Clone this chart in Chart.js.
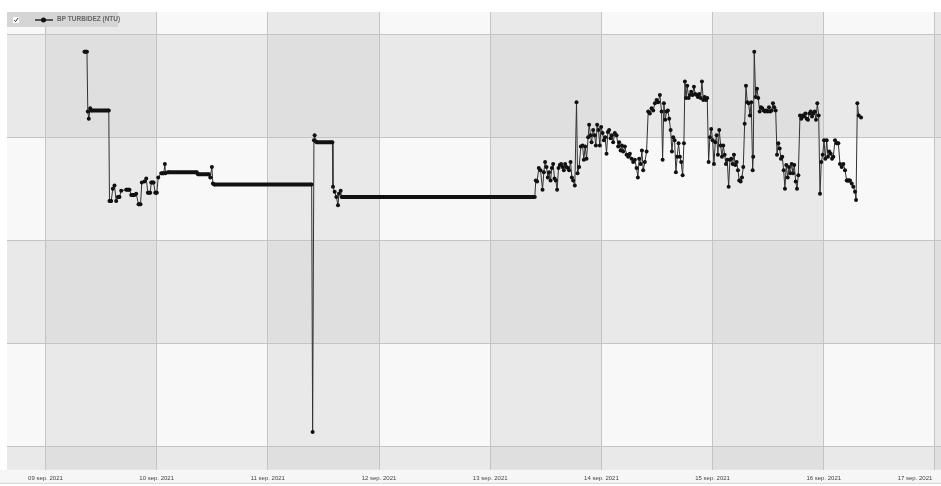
<!DOCTYPE html>
<html>
<head>
<meta charset="utf-8">
<script src="https://cdn.jsdelivr.net/npm/chart.js@4.4.1/dist/chart.umd.min.js"></script>
<style>
  html, body { margin: 0; padding: 0; background: #fff; overflow: hidden; }
  #wrap { width: 941px; height: 486px; position: relative; }
</style>
</head>
<body>
<div id="wrap"><canvas id="turbChart"></canvas></div>
<script>
// hours since 09 sep. 2021 00:00
const hours = [
  8.42, 8.96, 9.14, 9.35, 9.66, 9.83, 13.67, 13.82, 14.19, 14.54,
  14.90, 15.27, 15.62, 15.98, 16.35, 17.43, 18.14, 18.51, 19.22, 19.59,
  20.09, 20.52, 20.80, 21.38, 21.75, 22.10, 22.62, 22.83, 23.33, 23.70,
  24.04, 24.34, 24.99, 25.55, 25.77, 25.92, 26.42, 32.68, 32.90, 35.27,
  35.58, 35.92, 36.14, 36.40, 57.46, 57.67, 57.95, 58.10, 58.32, 58.54,
  61.93, 62.06, 62.42, 62.79, 63.14, 63.35, 63.72, 63.94, 105.62,
  105.84, 106.12, 106.49, 106.86, 107.29, 107.57, 107.85, 108.15, 108.43, 108.71,
  109.02, 109.30, 109.58, 109.88, 110.16, 110.44, 110.74, 111.02, 111.30, 111.61,
  111.89, 112.17, 112.47, 112.75, 113.03, 113.34, 113.62, 113.90, 114.26, 114.63,
  114.85, 115.19, 115.56, 115.93, 116.21, 116.49, 116.79, 117.14, 117.35, 117.66,
  117.87, 118.22, 118.52, 118.80, 119.08, 119.38, 119.66, 119.94, 120.25, 120.53,
  120.81, 121.11, 121.39, 121.67, 121.98, 122.26, 122.54, 122.90, 123.27, 123.62,
  123.83, 124.14, 124.42, 124.70, 125.06, 125.43, 125.78, 126.14, 126.51, 126.86,
  127.22, 127.59, 127.87, 128.15, 128.46, 128.74, 129.02, 129.38, 129.75, 130.10,
  130.46, 130.83, 131.18, 131.54, 131.91, 132.26, 132.62, 132.99, 133.21, 133.49,
  133.77, 134.07, 134.35, 134.63, 134.94, 135.22, 135.50, 135.80, 136.08, 136.36,
  136.66, 136.94, 137.22, 137.53, 137.81, 138.02, 138.24, 138.52, 138.82, 139.10,
  139.38, 139.69, 139.97, 140.25, 140.55, 140.83, 141.11, 141.42, 141.70, 141.98,
  142.28, 142.56, 142.84, 143.14, 143.42, 143.70, 144.01, 144.29, 144.57, 144.87,
  145.15, 145.43, 145.74, 146.02, 146.30, 146.60, 146.88, 147.16, 147.46, 147.74,
  148.02, 148.33, 148.61, 148.89, 149.19, 149.47, 149.75, 150.06, 150.34, 150.62,
  150.92, 151.20, 151.48, 151.78, 152.06, 152.34, 152.65, 152.77, 152.99, 153.30,
  153.58, 153.86, 154.16, 154.44, 154.72, 155.03, 155.30, 155.58, 155.89, 156.17,
  156.45, 156.75, 157.03, 157.31, 157.62, 157.90, 158.18, 158.48, 158.76, 159.04,
  159.34, 159.62, 159.90, 160.21, 160.49, 160.77, 161.07, 161.35, 161.63, 161.94,
  162.22, 162.50, 162.86, 163.15, 163.45, 163.73, 164.01, 164.31, 164.59, 164.87,
  165.18, 165.46, 165.74, 166.04, 166.32, 166.60, 166.90, 167.18, 167.46, 167.77,
  168.05, 168.33, 168.63, 168.91, 169.19, 169.50, 169.78, 170.06, 170.42, 170.79,
  171.14, 171.50, 171.87, 172.22, 172.58, 172.95, 173.30, 173.66, 174.03, 174.37,
  174.74, 174.96, 175.24, 175.55, 176.04
];

// BP turbidez (NTU)
const turbidity = [
  3.83, 3.83, 3.25, 3.18, 3.28, 3.26, 3.26, 2.38, 2.38, 2.50,
  2.53, 2.38, 2.42, 2.42, 2.48, 2.49, 2.49, 2.44, 2.44, 2.45,
  2.35, 2.35, 2.56, 2.57, 2.60, 2.46, 2.46, 2.56, 2.56, 2.46,
  2.46, 2.61, 2.65, 2.65, 2.74, 2.65, 2.66, 2.66, 2.64, 2.64,
  2.61, 2.71, 2.55, 2.54, 2.54, 0.14, 2.97, 3.02, 2.96, 2.95,
  2.95, 2.52, 2.47, 2.42, 2.34, 2.45, 2.48, 2.42, 2.42,
  2.58, 2.57, 2.70, 2.68, 2.49, 2.66, 2.76, 2.71, 2.61, 2.66,
  2.58, 2.70, 2.74, 2.60, 2.58, 2.49, 2.70, 2.73, 2.74, 2.71,
  2.68, 2.74, 2.71, 2.70, 2.68, 2.76, 2.61, 2.58, 2.53, 3.34,
  2.65, 2.71, 2.91, 2.92, 2.78, 2.91, 2.79, 3.00, 3.12, 3.02,
  2.95, 3.07, 3.02, 2.92, 3.12, 3.07, 2.92, 3.10, 3.04, 2.97,
  3.00, 2.84, 3.05, 3.07, 2.99, 3.02, 2.95, 3.04, 3.02, 2.91,
  2.95, 2.87, 2.92, 2.86, 2.91, 2.83, 2.81, 2.84, 2.79, 2.76,
  2.78, 2.70, 2.61, 2.79, 2.74, 2.87, 2.68, 2.76, 2.86, 3.25,
  3.23, 3.28, 3.26, 3.33, 3.36, 3.34, 3.41, 3.25, 2.78, 3.33,
  3.17, 3.25, 3.26, 3.18, 3.07, 2.86, 3.00, 2.97, 2.66, 2.81,
  2.94, 2.81, 2.76, 2.63, 2.94, 3.54, 3.38, 3.50, 3.38, 3.41,
  3.44, 3.41, 3.49, 3.42, 3.41, 3.39, 3.42, 3.38, 3.54, 3.36,
  3.39, 3.36, 3.38, 2.76, 3.00, 3.08, 2.97, 2.74, 2.95, 3.02,
  2.83, 3.07, 2.92, 2.81, 2.92, 2.83, 2.74, 2.78, 2.52, 2.78,
  2.79, 2.74, 2.83, 2.73, 2.76, 2.68, 2.58, 2.57, 2.61, 2.71,
  3.13, 3.50, 3.34, 3.33, 3.21, 3.34, 2.68, 2.81, 3.83, 3.39,
  3.47, 3.38, 3.25, 3.29, 3.28, 3.26, 3.25, 3.26, 3.25, 3.29,
  3.25, 3.26, 3.33, 3.29, 3.26, 2.83, 2.94, 2.89, 2.79, 2.81,
  2.68, 2.50, 2.73, 2.61, 2.71, 2.65, 2.74, 2.65, 2.73, 2.57,
  2.50, 2.63, 3.21, 3.18, 3.21, 3.20, 3.23, 3.18, 3.17, 3.23,
  3.25, 3.20, 3.23, 3.25, 3.17, 3.33, 3.21, 2.45, 2.76, 2.83,
  2.97, 2.79, 2.97, 2.81, 2.86, 2.84, 2.79, 2.81, 2.97, 2.94,
  2.94, 2.74, 2.71, 2.74, 2.68, 2.58, 2.58, 2.58, 2.55, 2.52,
  2.47, 2.39, 3.33, 3.21, 3.19
];

const dayTicks = [0, 24, 48, 72, 96, 120, 144, 168, 192];
const dayLabels = [
  "09 sep. 2021", "10 sep. 2021", "11 sep. 2021", "12 sep. 2021", "13 sep. 2021",
  "14 sep. 2021", "15 sep. 2021", "16 sep. 2021", "17 sep. 2021"
];
const yTicks = [0, 1, 2, 3, 4];

const seriesLabel = "BP TURBIDEZ (NTU)";
const axisFont = "'Liberation Sans Narrow', 'Liberation Sans', sans-serif";

// checkerboard background: alternating day columns x alternating value rows
const cellShading = {
  id: "cellShading",
  beforeDraw(chart) {
    const { ctx, chartArea: a, scales } = chart;
    const xs = [a.left, ...dayTicks.map((v) => scales.x.getPixelForValue(v)), a.right];
    const ys = [a.top, ...yTicks.slice().reverse().map((v) => scales.y.getPixelForValue(v)), a.bottom];
    const shades = ["#f8f8f8", "#e9e9e9", "#dfdfdf"];
    ctx.save();
    ctx.fillStyle = "#ffffff";
    ctx.fillRect(0, 0, chart.width, chart.height);
    ctx.fillStyle = "#f6f6f6";
    ctx.fillRect(0, a.bottom, chart.width, 13);
    ctx.fillStyle = "#d2d2d2";
    ctx.fillRect(0, a.bottom + 13, chart.width, 1);
    for (let i = 0; i < xs.length - 1; i++) {
      for (let j = 0; j < ys.length - 1; j++) {
        ctx.fillStyle = shades[(i % 2) + (j % 2)];
        ctx.fillRect(xs[i], ys[j], xs[i + 1] - xs[i], ys[j + 1] - ys[j]);
      }
    }
    ctx.restore();
  },
};

// legend box in the top left corner
const legendBox = {
  id: "legendBox",
  afterDraw(chart) {
    const { ctx, chartArea: a } = chart;
    const x0 = a.left, y0 = a.top;
    ctx.save();
    ctx.fillStyle = "#d5d5d5";
    ctx.fillRect(x0, y0, 111, 15);
    // checkbox
    ctx.fillStyle = "#ffffff";
    ctx.fillRect(x0 + 6, y0 + 5, 6, 6);
    ctx.strokeStyle = "#333";
    ctx.lineWidth = 1;
    ctx.beginPath();
    ctx.moveTo(x0 + 7.2, y0 + 8);
    ctx.lineTo(x0 + 8.6, y0 + 9.6);
    ctx.lineTo(x0 + 11, y0 + 6);
    ctx.stroke();
    // line + marker symbol
    ctx.strokeStyle = "#111";
    ctx.lineWidth = 1.3;
    ctx.beginPath();
    ctx.moveTo(x0 + 28, y0 + 8);
    ctx.lineTo(x0 + 46, y0 + 8);
    ctx.stroke();
    ctx.fillStyle = "#111";
    ctx.beginPath();
    ctx.arc(x0 + 36.5, y0 + 8, 2.5, 0, Math.PI * 2);
    ctx.fill();
    // label
    ctx.fillStyle = "#666";
    ctx.font = "bold 6.5px " + axisFont;
    ctx.textBaseline = "middle";
    ctx.fillText(chart.data.datasets[0].label, x0 + 50, y0 + 7.5);
    ctx.restore();
  },
};

const isFlat = (c) => c.p0.parsed.y === c.p1.parsed.y;

const turbChart = new Chart(document.getElementById("turbChart"), {
  type: "line",
  data: {
    datasets: [
      {
        label: seriesLabel,
        data: hours.map((h, i) => ({ x: h, y: turbidity[i] })),
        borderColor: "#333",
        borderWidth: 1,
        pointRadius: 2,
        pointBorderWidth: 0,
        pointBackgroundColor: "#111",
        tension: 0,
        segment: {
          borderWidth: (c) => (isFlat(c) ? 4 : 1),
          borderColor: (c) => (isFlat(c) ? "#111" : "#333"),
        },
      },
    ],
  },
  options: {
    responsive: true,
    maintainAspectRatio: false,
    animation: false,
    layout: { autoPadding: false, padding: { left: 7, top: 12, right: 0, bottom: 0 } },
    plugins: {
      legend: { display: false },
      tooltip: { enabled: false },
    },
    scales: {
      x: {
        type: "linear",
        min: -8.3,
        max: 193.3,
        afterBuildTicks: (scale) => {
          scale.ticks = dayTicks.map((v) => ({ value: v }));
        },
        afterFit: (scale) => {
          scale.paddingLeft = 0;
          scale.paddingRight = 0;
        },
        grid: { color: "#c4c4c4", drawTicks: false },
        border: { display: false },
        ticks: {
          padding: 4.5,
          maxRotation: 0,
          autoSkip: false,
          color: "#444",
          font: { family: axisFont, size: 6 },
          callback: (value, index) => {
            const label = dayLabels[index];
            // last label sits left of its grid line
            return index === dayLabels.length - 1 ? label + " ".repeat(24) : label;
          },
        },
      },
      y: {
        min: -0.228,
        max: 4.215,
        afterBuildTicks: (scale) => {
          scale.ticks = yTicks.map((v) => ({ value: v }));
        },
        grid: { color: "#c4c4c4", drawTicks: false },
        border: { display: false },
        ticks: { display: false },
      },
    },
  },
  plugins: [cellShading, legendBox],
});
</script>
</body>
</html>
